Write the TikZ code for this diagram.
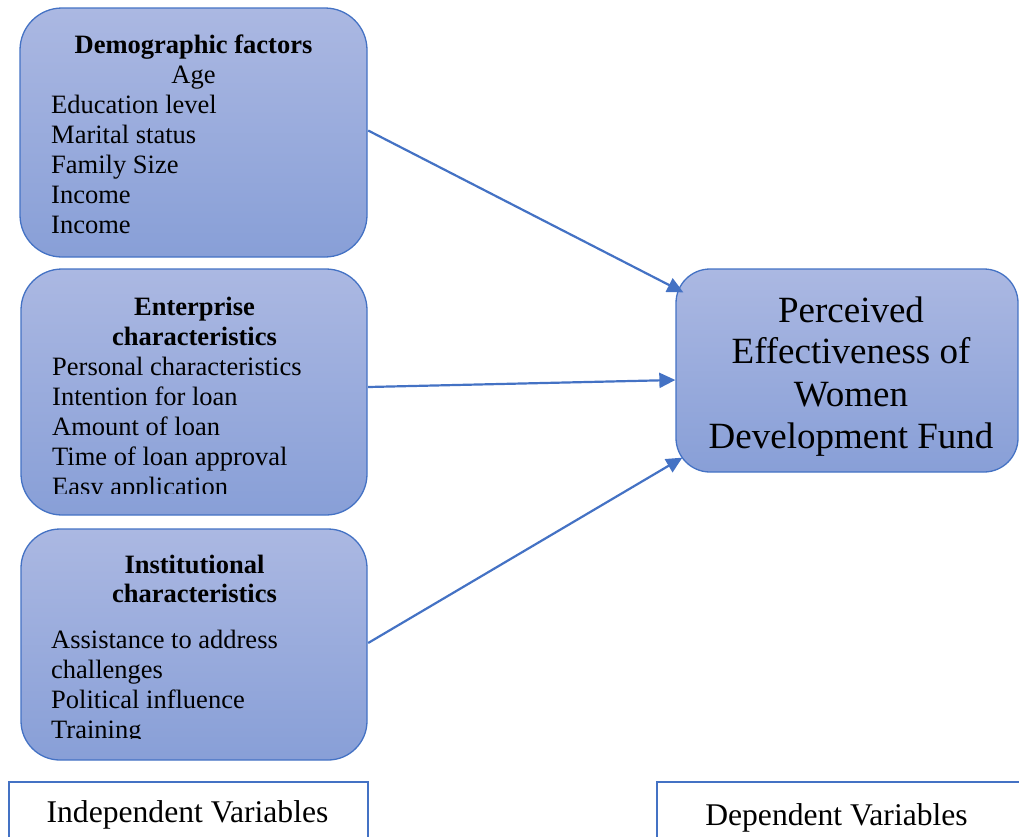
\documentclass[tikz,border=0pt]{standalone}
\usepackage{fontspec}
\setmainfont{Liberation Serif}
\usetikzlibrary{arrows.meta,calc}
\definecolor{accent}{RGB}{68,114,196}
\definecolor{gtop}{RGB}{171,184,226}
\definecolor{gbot}{RGB}{136,159,215}
\tikzset{
  varbox/.style={draw=accent, line width=1.3pt, top color=gtop, bottom color=gbot, inner sep=0pt},
  labbox/.style={draw=accent, line width=2pt, fill=white, inner sep=0pt},
  txt/.style={inner sep=0pt, anchor=base west, font=\fontsize{26.5}{30}\selectfont},
  ctxt/.style={inner sep=0pt, anchor=base, font=\fontsize{26.5}{30}\selectfont},
  btxt/.style={inner sep=0pt, anchor=base, font=\fontsize{26.5}{30}\selectfont\bfseries},
  bigtxt/.style={inner sep=0pt, anchor=base, font=\fontsize{37}{42}\selectfont},
  labtxt/.style={inner sep=0pt, anchor=base, font=\fontsize{31.6}{36}\selectfont},
  link/.style={draw=accent, line width=2.2pt, -{Triangle[length=16pt,width=15pt]}},
}
\begin{document}
\begin{tikzpicture}[x=1pt,y=-1pt]
\useasboundingbox (0,0) rectangle (1019,836);

% boxes
\node[varbox, rounded corners=42pt, minimum width=347pt, minimum height=249pt] (b1) at (193.5,132.5) {};
\node[varbox, rounded corners=41pt, minimum width=346pt, minimum height=246pt] (b2) at (194,392) {};
\node[varbox, rounded corners=39pt, minimum width=346pt, minimum height=231pt] (b3) at (194,644.5) {};
\node[varbox, rounded corners=34pt, minimum width=342pt, minimum height=203pt] (pe) at (847,370.5) {};
\node[labbox, minimum width=359pt, minimum height=68pt] (ind) at (188.5,816) {};
\node[labbox, minimum width=373pt, minimum height=68pt] (dep) at (843.5,816) {};

% box 1 text
\node[btxt] (t1a) at (193.5,53) {Demographic factors};
\node[ctxt] (t1b) at (193.5,83) {Age};
\node[txt] (t1c) at (51,113) {Education level};
\node[txt] (t1d) at (51,143) {Marital status};
\node[txt] (t1e) at (51,173) {Family Size};
\node[txt] (t1f) at (51,203) {Income};
\node[txt] (t1g) at (51,233) {Income};

% box 2 text
\begin{scope}
\clip (0,0) rectangle (1019,493);
\node[btxt] (t2a) at (194.5,315) {Enterprise};
\node[btxt] (t2b) at (194.5,345) {characteristics};
\node[txt] (t2c) at (52,375) {Personal characteristics};
\node[txt] (t2d) at (52,405) {Intention for loan};
\node[txt] (t2e) at (52,435) {Amount of loan};
\node[txt] (t2f) at (52,465) {Time of loan approval};
\node[txt] (t2g) at (52,495) {Easy application};
\end{scope}

% box 3 text
\begin{scope}
\clip (0,500) rectangle (1019,738.5);
\node[btxt] (t3a) at (194.5,573) {Institutional};
\node[btxt] (t3b) at (194.5,602) {characteristics};
\node[txt] (t3c) at (51,648) {Assistance to address};
\node[txt] (t3d) at (51,678) {challenges};
\node[txt] (t3e) at (51,708) {Political influence};
\node[txt] (t3f) at (51,738) {Training};
\end{scope}

% dependent box text
\node[bigtxt] (p1) at (851,322) {Perceived};
\node[bigtxt] (p2) at (851,363) {Effectiveness of};
\node[bigtxt] (p3) at (851,406) {Women};
\node[bigtxt] (p4) at (851,448) {Development Fund};

% labels
\node[labtxt] (li) at (187.5,822) {Independent Variables};
\node[labtxt] (ld) at (836.5,825.5) {Dependent Variables};

% connectors
\draw[link] ($(b1.east)+(0.5,-2)$) -- ($(pe.north west)+(8,24)$);
\draw[link] ($(b2.east)+(0.5,-5)$) -- ($(pe.west)+(0,9.5)$);
\draw[link] ($(b3.east)+(0.5,-1.5)$) -- ($(pe.south west)+(7,-15)$);
\end{tikzpicture}
\end{document}
